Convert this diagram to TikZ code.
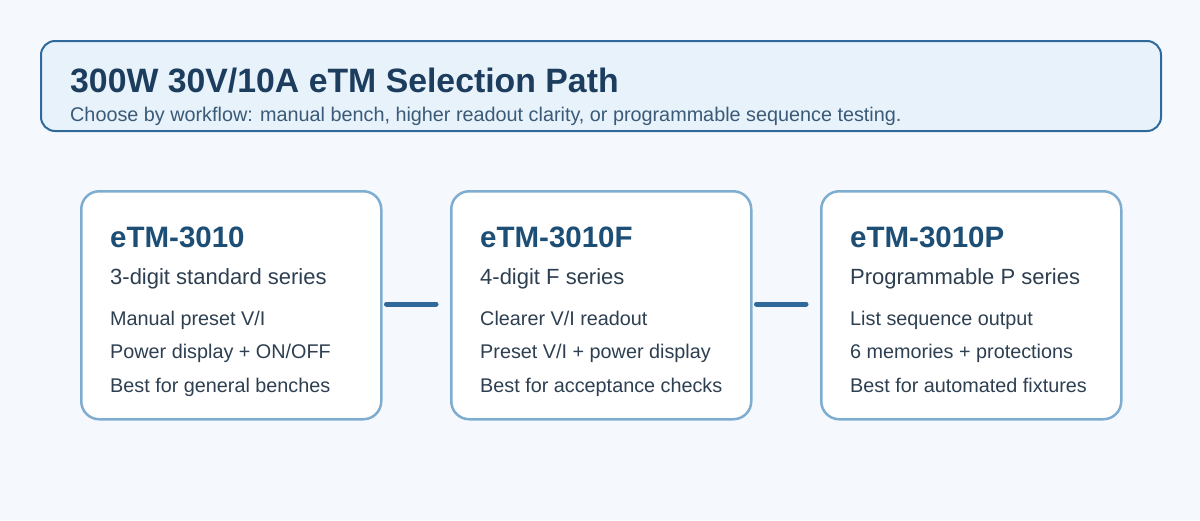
\documentclass[tikz,border=0pt]{standalone}
\usepackage{fontspec}
\setmainfont{Liberation Sans}
\definecolor{bg}{HTML}{F5F9FE}
\definecolor{tfill}{HTML}{E8F2FB}
\definecolor{tline}{HTML}{2F6A9A}
\definecolor{ttext}{HTML}{1C3D5E}
\definecolor{stext}{HTML}{3A5A78}
\definecolor{cline}{HTML}{7FADD0}
\definecolor{chead}{HTML}{1D4E75}
\definecolor{ctext}{HTML}{2D3F50}
\begin{document}
\begin{tikzpicture}[x=1pt,y=-1pt,
 card/.style={draw=cline,line width=2.5pt,fill=white,rounded corners=18pt,minimum width=300pt,minimum height=228pt,anchor=north west,inner sep=0},
 head/.style={anchor=base west,font=\bfseries\fontsize{29.5}{33}\selectfont,text=chead,inner sep=0},
 sub/.style={anchor=base west,font=\fontsize{22}{26}\selectfont,text=ctext,inner sep=0},
 item/.style={anchor=base west,font=\fontsize{19.8}{23}\selectfont,text=ctext,inner sep=0},
 conn/.style={draw=tline,line width=5pt,line cap=round,shorten <=4pt,shorten >=14pt}]
\path[fill=bg] (0,0) rectangle (1200,520);
\useasboundingbox (0,0) rectangle (1200,520);
\node[draw=tline,line width=2pt,fill=tfill,rounded corners=14pt,minimum width=1120pt,minimum height=90pt,anchor=north west,inner sep=0] (title) at (40,40) {};
\node[anchor=base west,inner sep=0,font=\bfseries\fontsize{33.8}{37}\selectfont,text=ttext] (tt) at (70,92) {300W 30V/10A eTM Selection Path};
\node[anchor=base west,inner sep=0,font=\fontsize{19.8}{23}\selectfont,text=stext] (st) at (70,121) {Choose by workflow: manual bench, higher readout clarity, or programmable sequence testing.};
\foreach \n/\x/\h/\s/\a/\b/\c in {
 a/80/eTM-3010/3-digit standard series/{Manual preset V/I}/{Power display + ON/OFF}/Best for general benches,
 b/450/eTM-3010F/4-digit F series/{Clearer V/I readout}/{Preset V/I + power display}/Best for acceptance checks,
 c/820/eTM-3010P/Programmable P series/List sequence output/6 memories + protections/Best for automated fixtures}{
 \node[card] (\n) at (\x,190) {};
 \node[head] (\n h) at (\x+30,247) {\h};
 \node[sub] (\n s) at (\x+30,284) {\s};
 \node[item] (\n 1) at (\x+30,325) {\a};
 \node[item] (\n 2) at (\x+30,358) {\b};
 \node[item] (\n 3) at (\x+30,392) {\c};
}
\draw[conn] (a.east |- 0,304) -- (b.west |- 0,304);
\draw[conn] (b.east |- 0,304) -- (c.west |- 0,304);
\end{tikzpicture}
\end{document}
